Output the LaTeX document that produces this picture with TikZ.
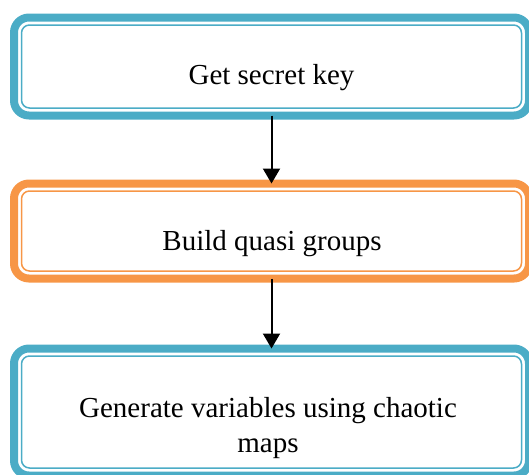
\documentclass[tikz,border=0pt]{standalone}
\usepackage{fontspec}
\setmainfont{Liberation Serif}
\usetikzlibrary{fit,arrows.meta}
\definecolor{boxblue}{HTML}{4BACC6}
\definecolor{boxorange}{HTML}{F79646}
\begin{document}
\begin{tikzpicture}[x=1pt,y=-1pt,
  innerbox/.style={draw=#1, line width=1.5pt, rounded corners=8pt, outer sep=0pt, inner sep=0pt, minimum width=500pt},
  outerbox/.style={draw=#1, line width=8pt, rounded corners=15pt, inner sep=7.5pt, outer sep=0pt},
  labeltext/.style={font=\fontsize{29}{35}\selectfont, align=center, inner sep=0pt},
  flow/.style={line width=2pt, -{Triangle[width=17pt,length=15pt]}}]
\useasboundingbox (0,0) rectangle (529,474);
% box 1
\node[innerbox=boxblue, minimum height=83pt] (b1) at (271.5,66.5) {};
\node[outerbox=boxblue, fit=(b1)] (o1) {};
\node[labeltext, anchor=base] (t1) at (271.5,84) {Get secret key};
% box 2
\node[innerbox=boxorange, minimum height=80pt] (b2) at (271.5,231) {};
\node[outerbox=boxorange, fit=(b2)] (o2) {};
\node[labeltext, anchor=base] (t2) at (272,250) {Build quasi groups};
% box 3
\node[innerbox=boxblue, minimum height=112pt] (b3) at (271.5,412) {};
\node[outerbox=boxblue, fit=(b3)] (o3) {};
\node[labeltext] (t3) at (268,428) {Generate variables using chaotic\\maps};
% connectors
\draw[flow] (o1.south) -- (o2.north);
\draw[flow] (o2.south) -- (o3.north);
\end{tikzpicture}
\end{document}
